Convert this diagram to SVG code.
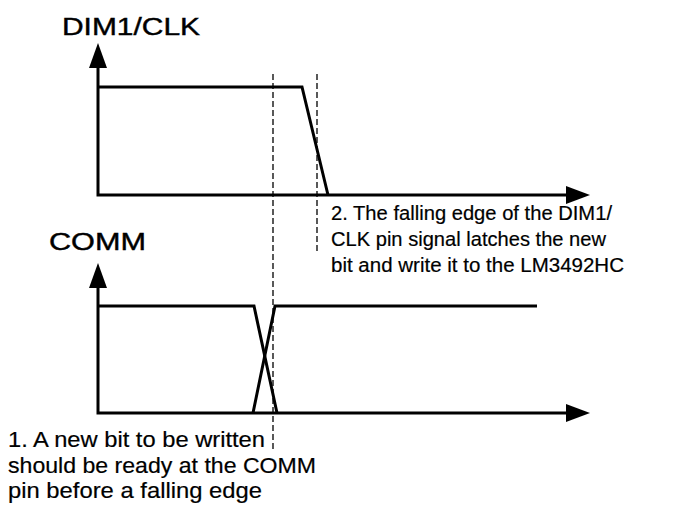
<svg xmlns="http://www.w3.org/2000/svg" width="674" height="508" viewBox="0 0 674 508">
<defs>
<style>
.ax{fill:none;stroke:#000;stroke-width:3}
.sig{fill:none;stroke:#000;stroke-width:3;stroke-linejoin:miter}
.dash{fill:none;stroke:#000;stroke-width:1.3;stroke-dasharray:6 3}
.ah{fill:#000}
.t{font-family:"Liberation Sans",Arial,sans-serif;fill:#000}
.title{font-size:23px;stroke:#000;stroke-width:0.4}
.body{font-size:20.5px;stroke:#000;stroke-width:0.2}
.body2{font-size:21.5px;stroke:#000;stroke-width:0.2}
</style>
</defs>
<rect width="674" height="508" fill="#fff"/>
<g id="connectors">
<line class="dash" x1="273" y1="74" x2="273" y2="452"/>
<line class="dash" x1="317" y1="74" x2="317" y2="252"/>
</g>
<g id="dim1clk">
<text class="t title" x="62" y="35" textLength="138" lengthAdjust="spacingAndGlyphs">DIM1/CLK</text>
<polyline class="ax" points="98,68 98,195 568,195"/>
<polygon class="ah" points="98,43 89,68 107,68"/>
<polygon class="ah" points="590,195 566,186 566,204"/>
<polyline class="sig" points="98,87 302,87 328,195"/>
</g>
<g id="comm">
<text class="t title" x="49" y="250" textLength="97" lengthAdjust="spacingAndGlyphs">COMM</text>
<polyline class="ax" points="98,287 98,413 568,413"/>
<polygon class="ah" points="98,263 89,288 107,288"/>
<polygon class="ah" points="590,413 566,404 566,422"/>
<polyline class="sig" points="98,306 254,306 277,413"/>
<polyline class="sig" points="253,413 275,306 537,306"/>
</g>
<g id="note2">
<text class="t body" x="331" y="220" textLength="281" lengthAdjust="spacingAndGlyphs">2. The falling edge of the DIM1/</text>
<text class="t body" x="331" y="246" textLength="275" lengthAdjust="spacingAndGlyphs">CLK pin signal latches the new</text>
<text class="t body" x="331" y="272" textLength="293" lengthAdjust="spacingAndGlyphs">bit and write it to the LM3492HC</text>
</g>
<g id="note1">
<text class="t body2" x="8" y="447" textLength="257" lengthAdjust="spacingAndGlyphs">1. A new bit to be written</text>
<text class="t body2" x="8" y="473" textLength="308" lengthAdjust="spacingAndGlyphs">should be ready at the COMM</text>
<text class="t body2" x="8" y="498" textLength="254" lengthAdjust="spacingAndGlyphs">pin before a falling edge</text>
</g>
</svg>
